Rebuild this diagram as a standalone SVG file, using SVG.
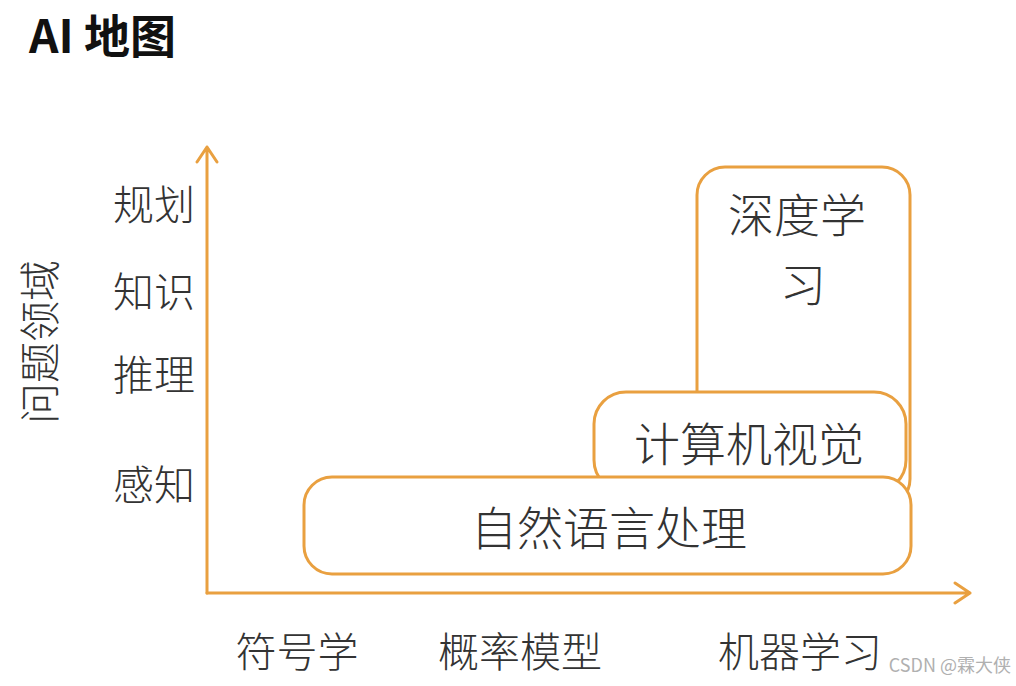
<svg xmlns="http://www.w3.org/2000/svg" width="1016" height="686" viewBox="0 0 1016 686">
<defs>
<style>
.t{font-family:"Noto Sans CJK SC","Noto Sans",sans-serif;font-weight:300;fill:#333;font-size:41px}
.b{font-size:46px}
.box{fill:#fff;stroke:#E9A040;stroke-width:3}
.ax{stroke:#E9A040;stroke-width:3;fill:none;stroke-linecap:round;stroke-linejoin:round}
</style>
</defs>
<rect width="1016" height="686" fill="#fff"/>
<text x="29" y="53" style="font-family:'Noto Sans CJK SC','Liberation Sans',sans-serif;font-weight:700;font-size:46px;fill:#111">AI 地图</text>
<g id="connectors">
<path class="ax" d="M207 593 V147 M197 162 L207 147 L217 162"/>
<path class="ax" d="M207 593 H970 M955 583 L970 593 L955 603"/>
</g>
<g id="y-labels">
<text class="t" x="154" y="220" text-anchor="middle">规划</text>
<text class="t" x="154" y="307" text-anchor="middle">知识</text>
<text class="t" x="154" y="390" text-anchor="middle">推理</text>
<text class="t" x="154" y="500" text-anchor="middle">感知</text>
<text class="t" transform="translate(55 342) rotate(-90)" text-anchor="middle">问题领域</text>
</g>
<g id="x-labels">
<text class="t" x="297" y="667" text-anchor="middle">符号学</text>
<text class="t" x="520" y="667" text-anchor="middle">概率模型</text>
<text class="t" x="800" y="667" text-anchor="middle">机器学习</text>
</g>
<g id="deep-learning">
<rect class="box" x="697" y="167" width="213" height="340" rx="28"/>
<text class="t b" x="797" y="232" text-anchor="middle">深度学</text>
<text class="t b" x="803" y="301" text-anchor="middle">习</text>
</g>
<g id="computer-vision">
<rect class="box" x="594" y="392" width="312" height="100" rx="32"/>
<text class="t b" x="749" y="461" text-anchor="middle">计算机视觉</text>
</g>
<g id="nlp">
<rect class="box" x="304" y="477" width="607" height="97" rx="28"/>
<text class="t b" x="609" y="545" text-anchor="middle">自然语言处理</text>
</g>
<text x="1011" y="672" text-anchor="end" style="font-family:'Noto Sans CJK SC','Liberation Sans',sans-serif;font-size:18px;fill:#b0b0b0">CSDN @霖大侠</text>
</svg>
